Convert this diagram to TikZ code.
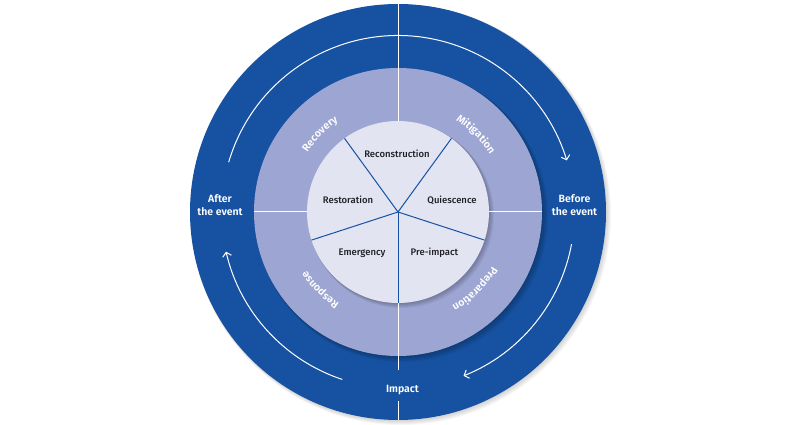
\documentclass[tikz,border=0pt]{standalone}
\usepackage{fontspec}
\setmainfont{Fira Sans}[UprightFont={* Medium},BoldFont={* SemiBold}]
\newfontfamily\ringfont{Fira Sans}[UprightFont={* SemiBold}]
\usetikzlibrary{decorations.text,arrows.meta}
\definecolor{outerblue}{RGB}{22,82,161}
\definecolor{midpurple}{RGB}{157,165,211}
\definecolor{innerlav}{RGB}{226,228,242}
\definecolor{darktext}{RGB}{30,30,35}
\tikzset{
  wline/.style={draw=white,line width=1pt},
  bline/.style={draw=outerblue,line width=1pt},
  warrow/.style={draw=white,line width=1pt,-{Straight Barb[length=4pt,width=9pt]}},
  inlabel/.style={anchor=base,text=darktext,font=\fontsize{9.5}{11}\selectfont},
  outlabel/.style={anchor=base,text=white,font=\bfseries\fontsize{10.5}{12}\selectfont},
}
\newcommand{\ringlabel}[2]{%
  \path[decorate,decoration={text along path,text align=center,
    text={|\color{white}\ringfont\fontsize{10.5}{12}\selectfont|#2}}]
    ({#1+45}:108.5pt) arc[start angle={#1+45},end angle={#1-45},radius=108.5pt];}
\begin{document}
\begin{tikzpicture}[x=1pt,y=1pt]
\useasboundingbox (-398,-213) rectangle (402,212);
% outer shadow
\foreach \k in {1,...,5}{\fill[black,opacity=0.035] (\k*0.6,-\k*0.6) circle[radius=208+\k*0.4];}
\fill[outerblue] (0,0) coordinate (c) circle[radius=208];
% middle shadow
\foreach \k in {1,...,5}{\fill[black,opacity=0.05] (\k*0.8,-\k*0.8) circle[radius=144+\k*0.4];}
\fill[midpurple] (0,0) circle[radius=144];
% inner shadow
\foreach \k in {1,...,5}{\fill[black,opacity=0.05] (\k*0.7,-\k*0.7) circle[radius=91+\k*0.3];}
\fill[innerlav] (0,0) circle[radius=91];
% white dividing lines
\coordinate (topO) at (90:208);
\coordinate (topI) at (90:91);
\draw[wline] (topO) -- (topI);
\coordinate (botI) at (270:91);
\coordinate (botA) at (0,-158);
\coordinate (botB) at (0,-189);
\coordinate (botO) at (270:208);
\draw[wline] (botI) -- (botA);
\draw[wline] (botB) -- (botO);
\coordinate (lM) at (180:144);
\coordinate (lI) at (180:91);
\coordinate (rM) at (0:144);
\coordinate (rI) at (0:91);
\draw[wline] (lM) -- (lI);
\draw[wline] (rI) -- (rM);
% blue sector lines
\foreach \a in {270,342,54,126,198}{\coordinate (s\a) at (\a:91); \draw[bline] (c) -- (s\a);}
% arrows
\coordinate (a1) at (163.6:176.5);
\coordinate (a2) at (-10.5:176.5);
\coordinate (a3) at (251.6:176.5);
\draw[warrow] (a1) arc[start angle=163.6,end angle=17,radius=176.5];
\draw[warrow] (a2) arc[start angle=-10.5,end angle=-68.2,radius=176.5];
\draw[warrow] (a3) arc[start angle=251.6,end angle=193,radius=176.5];
% inner labels
\node[inlabel] (rec) at (-1,54) {Reconstruction};
\node[inlabel] (res) at (-50,8) {Restoration};
\node[inlabel] (qui) at (54,8) {Quiescence};
\node[inlabel] (eme) at (-36,-44) {Emergency};
\node[inlabel] (pre) at (36.5,-44) {Pre-impact};
% outer labels
\node[outlabel] (aft1) at (-178,9.7) {After};
\node[outlabel] (aft2) at (-178,-3.7) {the event};
\node[outlabel] (bef1) at (176.5,9.7) {Before};
\node[outlabel] (bef2) at (176.5,-3.7) {the event};
\node[outlabel] (imp) at (4.5,-180) {Impact};
% ring labels
\ringlabel{135}{Recovery}
\ringlabel{45}{Mitigation}
\ringlabel{225}{Response}
\ringlabel{315}{Preparation}
\end{tikzpicture}
\end{document}
